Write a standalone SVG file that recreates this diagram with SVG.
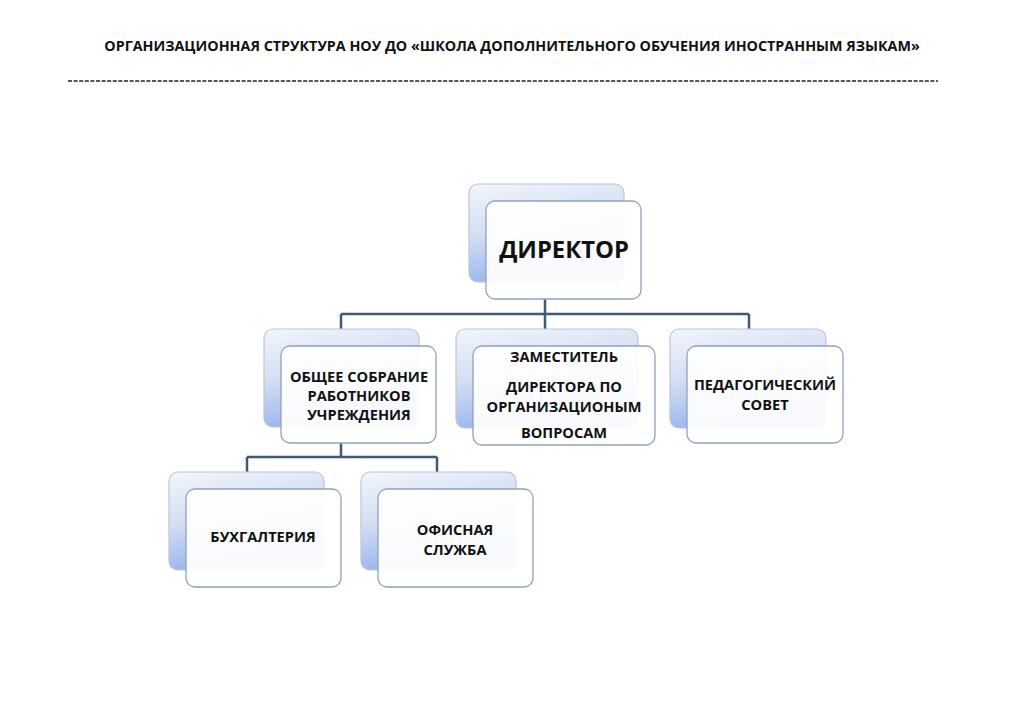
<svg xmlns="http://www.w3.org/2000/svg" width="1024" height="724" viewBox="0 0 1024 724">
<defs>
<linearGradient id="bg" x1="0" y1="0" x2="0.3" y2="1">
<stop offset="0" stop-color="#f2f5fb"/>
<stop offset="0.5" stop-color="#d4def3"/>
<stop offset="1" stop-color="#96b2ec"/>
</linearGradient>
<style>
.back{fill:url(#bg);stroke:#b9c5d9;stroke-width:1.2}
.front{fill:#ffffff;fill-opacity:0.93;stroke:#8ea3bf;stroke-width:1.3}
.t{font-family:"Open Sans","Liberation Sans",sans-serif;font-weight:bold;fill:#111;text-anchor:middle}
.s{font-size:14.6px}
.conn{fill:none;stroke:#3d5a78;stroke-width:2.5}
</style>
</defs>
<rect width="1024" height="724" fill="#ffffff"/>
<text class="t" x="512" y="51" font-size="14.3">ОРГАНИЗАЦИОННАЯ СТРУКТУРА НОУ ДО «ШКОЛА ДОПОЛНИТЕЛЬНОГО ОБУЧЕНИЯ ИНОСТРАННЫМ ЯЗЫКАМ»</text>
<line x1="68" y1="81" x2="938" y2="81" stroke="#222" stroke-width="1.5" stroke-dasharray="4 1.6"/>
<g id="connectors">
<path class="conn" d="M545 299 V314 M341 314 H749 M341 314 V329 M545 314 V329 M749 314 V329"/>
<path class="conn" d="M341 443 V457 M247 457 H437 M247 457 V472 M437 457 V472"/>
</g>
<g id="director">
<rect class="back" x="469" y="184" width="155" height="98" rx="9"/>
<rect class="front" x="486" y="201" width="155" height="98" rx="9"/>
<text class="t" x="564" y="258" font-size="23.8">ДИРЕКТОР</text>
</g>
<g id="obshchee">
<rect class="back" x="264" y="329" width="155" height="98" rx="9"/>
<rect class="front" x="281" y="346" width="155" height="97" rx="9"/>
<text class="t s" x="359" y="382">ОБЩЕЕ СОБРАНИЕ</text>
<text class="t s" x="359" y="401">РАБОТНИКОВ</text>
<text class="t s" x="359" y="420">УЧРЕЖДЕНИЯ</text>
</g>
<g id="zam">
<rect class="back" x="456" y="329" width="182" height="99" rx="9"/>
<rect class="front" x="473" y="346" width="182" height="99" rx="9"/>
<text class="t s" x="564" y="362">ЗАМЕСТИТЕЛЬ</text>
<text class="t s" x="564" y="392">ДИРЕКТОРА ПО</text>
<text class="t s" x="564" y="412">ОРГАНИЗАЦИОНЫМ</text>
<text class="t s" x="564" y="438">ВОПРОСАМ</text>
</g>
<g id="pedsovet">
<rect class="back" x="670" y="329" width="156" height="99" rx="9"/>
<rect class="front" x="687" y="346" width="156" height="97" rx="9"/>
<text class="t s" x="765" y="390">ПЕДАГОГИЧЕСКИЙ</text>
<text class="t s" x="765" y="410">СОВЕТ</text>
</g>
<g id="buh">
<rect class="back" x="169" y="472" width="155" height="98" rx="9"/>
<rect class="front" x="186" y="489" width="155" height="98" rx="9"/>
<text class="t s" x="263" y="542">БУХГАЛТЕРИЯ</text>
</g>
<g id="office">
<rect class="back" x="361" y="472" width="155" height="98" rx="9"/>
<rect class="front" x="378" y="489" width="155" height="98" rx="9"/>
<text class="t s" x="455" y="535">ОФИСНАЯ</text>
<text class="t s" x="455" y="555">СЛУЖБА</text>
</g>
</svg>
